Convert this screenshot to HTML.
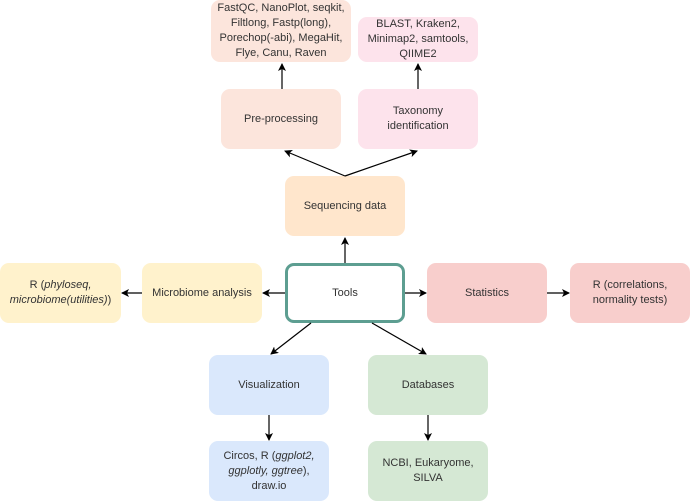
<!DOCTYPE html>
<html><head><meta charset="utf-8"><style>
body{margin:0;width:691px;height:502px;background:#fff;position:relative;overflow:hidden;font-family:"Liberation Sans",sans-serif;font-size:11px;color:#333;}
.b{position:absolute;border-radius:9px;display:flex;align-items:center;justify-content:center;text-align:center;line-height:15px;box-sizing:border-box;}
.b span{display:block;}
svg{position:absolute;left:0;top:0;}
</style></head><body>
<div class="b" style="left:211px;top:0;width:140px;height:62px;background:#fce5dc"><span>FastQC, NanoPlot, seqkit,<br>Filtlong, Fastp(long),<br>Porechop(-abi), MegaHit,<br>Flye, Canu, Raven</span></div>
<div class="b" style="left:358px;top:17px;width:120px;height:45px;background:#fde3ec"><span>BLAST, Kraken2,<br>Minimap2, samtools,<br>QIIME2</span></div>
<div class="b" style="left:221px;top:89px;width:120px;height:60px;background:#fce5dc"><span>Pre-processing</span></div>
<div class="b" style="left:358px;top:89px;width:120px;height:60px;background:#fde3ec"><span>Taxonomy<br>identification</span></div>
<div class="b" style="left:285px;top:176px;width:120px;height:60px;background:#ffe6cc"><span>Sequencing data</span></div>
<div class="b" style="left:285px;top:263px;width:120px;height:60px;background:#fff;border:3px solid #5d9e91"><span>Tools</span></div>
<div class="b" style="left:142px;top:263px;width:120px;height:60px;background:#fff2cc"><span>Microbiome analysis</span></div>
<div class="b" style="left:0;top:263px;width:121px;height:60px;background:#fff2cc"><span>R (<i>phyloseq,</i><br><i>microbiome(utilities)</i>)</span></div>
<div class="b" style="left:427px;top:263px;width:120px;height:60px;background:#f8cecc"><span>Statistics</span></div>
<div class="b" style="left:570px;top:263px;width:120px;height:60px;background:#f8cecc"><span>R (correlations,<br>normality tests)</span></div>
<div class="b" style="left:209px;top:355px;width:120px;height:60px;background:#dae8fc"><span>Visualization</span></div>
<div class="b" style="left:368px;top:355px;width:120px;height:60px;background:#d5e8d4"><span>Databases</span></div>
<div class="b" style="left:209px;top:441px;width:120px;height:60px;background:#dae8fc"><span>Circos, R (<i>ggplot2,</i><br><i>ggplotly, ggtree</i>),<br>draw.io</span></div>
<div class="b" style="left:368px;top:441px;width:120px;height:60px;background:#d5e8d4"><span>NCBI, Eukaryome,<br>SILVA</span></div>
<svg width="691" height="502"><defs><marker id="a" markerWidth="8" markerHeight="8" refX="7" refY="4" orient="auto" markerUnits="userSpaceOnUse"><path d="M0,0 L8,4 L0,8 L2,4 Z" fill="#000"/></marker></defs>
<g stroke="#000" stroke-width="1.2" fill="none" marker-end="url(#a)">
<line x1="345" y1="263" x2="345" y2="238"/>
<line x1="345" y1="176" x2="285" y2="151"/>
<line x1="345" y1="176" x2="417" y2="151"/>
<line x1="282" y1="89" x2="282" y2="64"/>
<line x1="418" y1="89" x2="418" y2="64"/>
<line x1="285" y1="293" x2="263" y2="293"/>
<line x1="142" y1="293" x2="122" y2="293"/>
<line x1="405" y1="293" x2="426" y2="293"/>
<line x1="547" y1="293" x2="569" y2="293"/>
<line x1="311" y1="323" x2="271" y2="354"/>
<line x1="372" y1="323" x2="426" y2="354"/>
<line x1="269" y1="415" x2="269" y2="440"/>
<line x1="428" y1="415" x2="428" y2="440"/>
</g></svg>
</body></html>
